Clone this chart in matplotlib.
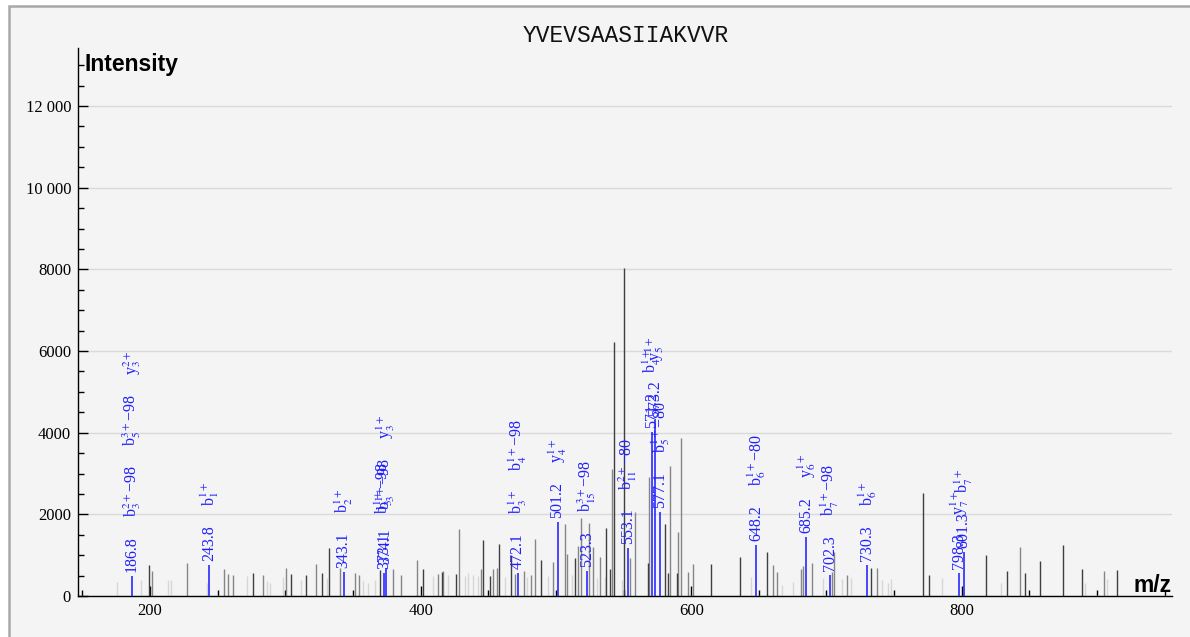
import matplotlib
matplotlib.use("Agg")
import matplotlib.pyplot as plt
from matplotlib.patches import Rectangle
from matplotlib.ticker import MultipleLocator, FixedLocator

# ---------------- data ----------------
title = "YVEVSAASIIAKVVR"

# unlabeled peaks: m/z, intensity, shade code (d=dark, m=medium, l=light)
peak_mz = [175.4, 193.1, 199.5, 201.2, 213.5, 215.3, 227.6, 242.4, 254.7, 257.4,
           261.5, 271.5, 276.4, 283.3, 286.2, 288.7, 298.5, 300.5, 304.2, 311.6,
           315.3, 322.4, 327.3, 330.5, 332.5, 340.4, 351.5, 354.5, 357.6, 361.3,
           366.3, 370.0, 379.4, 385.2, 397.0, 401.5, 409.4, 413.0, 415.6, 416.8,
           420.5, 426.2, 428.6, 432.8, 435.3, 438.9, 442.6, 444.4, 446.4, 451.3,
           453.3, 456.2, 458.2, 462.4, 466.6, 470.0, 476.4, 478.4, 481.4, 484.5,
           489.2, 494.4, 498.0, 506.7, 508.2, 511.7, 514.1, 516.1, 518.3, 524.5,
           527.1, 530.2, 532.6, 536.3, 537.0, 540.0, 541.2, 543.0, 548.6, 550.6,
           554.8, 558.4, 568.2, 569.0, 580.4, 583.1, 584.3, 589.2, 590.0, 592.2,
           598.0, 601.0, 614.3, 636.1, 644.0, 656.2, 660.2, 663.1, 667.0, 674.9,
           680.8, 682.8, 689.3, 697.1, 704.0, 705.2, 711.1, 714.9, 717.8, 733.1,
           737.0, 741.0, 745.6, 747.4, 771.1, 776.0, 785.1, 817.8, 828.7, 833.1,
           843.0, 846.9, 857.8, 875.0, 889.1, 891.1, 905.1, 907.5, 914.9]
peak_int = [350, 390, 760, 620, 390, 390, 815, 310, 650, 540,
            505, 490, 570, 505, 375, 310, 475, 675, 540, 390,
            515, 785, 555, 450, 1165, 675, 570, 515, 375, 310,
            390, 635, 650, 515, 880, 650, 480, 540, 600, 620,
            520, 530, 1640, 480, 560, 520, 500, 650, 1370, 490,
            660, 675, 1275, 470, 1005, 540, 620, 460, 515, 1390,
            880, 480, 840, 1755, 1020, 520, 940, 1225, 1900, 1795,
            1190, 450, 960, 460, 1670, 650, 3100, 6220, 390, 8030,
            920, 2065, 800, 2920, 1760, 570, 3190, 555, 1560, 3870,
            590, 785, 785, 965, 460, 1075, 760, 580, 270, 350,
            660, 740, 800, 430, 600, 1085, 410, 515, 450, 675,
            675, 390, 310, 415, 2515, 515, 430, 1005, 310, 620,
            1190, 570, 855, 1250, 650, 330, 610, 415, 635]
peak_shade = ["l", "l", "d", "m", "l", "l", "m", "l", "m", "m",
              "m", "l", "d", "m", "l", "l", "l", "m", "d", "l",
              "d", "m", "d", "l", "d", "m", "m", "m", "l", "l",
              "l", "d", "m", "m", "m", "d", "l", "m", "d", "m",
              "l", "d", "m", "l", "l", "l", "l", "m", "d", "d",
              "m", "m", "d", "l", "d", "m", "m", "l", "m", "m",
              "d", "l", "m", "m", "m", "l", "d", "m", "m", "m",
              "m", "l", "m", "l", "d", "d", "m", "d", "l", "d",
              "m", "m", "d", "m", "d", "d", "m", "d", "m", "m",
              "m", "m", "d", "d", "l", "d", "m", "m", "l", "l",
              "m", "m", "m", "l", "m", "m", "l", "m", "l", "d",
              "m", "l", "l", "l", "d", "d", "l", "d", "l", "d",
              "m", "d", "d", "d", "d", "l", "m", "l", "d"]

# annotated (matched) peaks
ann_mz = [186.8, 243.8, 343.1, 373.1, 374.1, 472.1, 501.2, 523.3, 553.1,
          571.2, 573.2, 577.1, 648.2, 685.2, 702.3, 730.3, 798.3, 801.3]
ann_int = [500, 760, 595, 570, 675, 560, 1810, 620, 1165,
           4020, 4310, 2065, 1250, 1450, 515, 760, 555, 1085]
ann_labels = [
    ["186.8", "b$_{3}^{2+}$\u221298", "b$_{5}^{3+}$\u221298", "y$_{3}^{2+}$"],
    ["243.8", "b$_{1}^{1+}$"],
    ["343.1", "b$_{2}^{1+}$"],
    ["373.1", "b$_{3}^{1+}$\u221298"],
    ["374.1", "b$_{3}^{1+}$\u221298", "y$_{3}^{1+}$"],
    ["472.1", "b$_{3}^{1+}$", "b$_{4}^{1+}$\u221298"],
    ["501.2", "y$_{4}^{1+}$"],
    ["523.3", "b$_{15}^{3+}$\u221298"],
    ["553.1", "b$_{11}^{2+}$\u221280"],
    ["571.2", "b$_{4}^{1+}$"],
    ["573.2", "y$_{5}^{1+}$"],
    ["577.1", "b$_{5}^{1+}$\u221280"],
    ["648.2", "b$_{6}^{1+}$\u221280"],
    ["685.2", "y$_{6}^{1+}$"],
    ["702.3", "b$_{7}^{1+}$\u221298"],
    ["730.3", "b$_{6}^{1+}$"],
    ["798.3", "y$_{7}^{1+}$"],
    ["801.3", "b$_{7}^{1+}$"],
]

x_ticks = [200, 400, 600, 800]
x_tick_labels = ["200", "400", "600", "800"]
y_ticks = [0, 2000, 4000, 6000, 8000, 10000, 12000]
y_tick_labels = ["0", "2000", "4000", "6000", "8000", "10 000", "12 000"]

# ---------------- styling ----------------
plt.rcParams["mathtext.fontset"] = "stix"
W, H, DPI = 1190, 637, 100
fig = plt.figure(figsize=(W / DPI, H / DPI), dpi=DPI, facecolor="white")

# panel background with border
fig.patches.append(Rectangle((8.5 / W, -0.2), 1.2, 1.2 - 6.2 / H,
                             transform=fig.transFigure, facecolor="#f4f4f4",
                             edgecolor="#a8a8a8", linewidth=1.8, zorder=-10))

ax_l, ax_r, ax_b, ax_t = 78, 1172, 596, 48
ax = fig.add_axes([ax_l / W, (H - ax_b) / H, (ax_r - ax_l) / W, (ax_b - ax_t) / H])
ax.set_facecolor("none")

xmin = 200 + (ax_l - 150) / 1.353
xmax = 200 + (ax_r - 150) / 1.353
ymax = (ax_b - ax_t) * 24.49
ax.set_xlim(xmin, xmax)
ax.set_ylim(0, ymax)

for s in ["top", "right"]:
    ax.spines[s].set_visible(False)
for s in ["left", "bottom"]:
    ax.spines[s].set_color("black")
    ax.spines[s].set_linewidth(1.0)

shade_colors = {"d": "#3f3f3f", "m": "#858585", "l": "#d6d6d6"}
for code in ["l", "m", "d"]:
    xs = [m for m, c in zip(peak_mz, peak_shade) if c == code]
    hs = [h for h, c in zip(peak_int, peak_shade) if c == code]
    ax.vlines(xs, 0, hs, colors=shade_colors[code], linewidth=1.0, zorder=2)

ax.vlines(ann_mz, 0, ann_int, colors="#2a2aff", linewidth=1.2, zorder=3)

ax.yaxis.set_major_locator(FixedLocator(y_ticks))
ax.set_yticklabels(y_tick_labels)
ax.yaxis.set_minor_locator(MultipleLocator(500))
ax.xaxis.set_major_locator(FixedLocator(x_ticks))
ax.set_xticklabels(x_tick_labels)
ax.xaxis.set_minor_locator(MultipleLocator(50))
ax.grid(axis="y", which="major", color="#dadada", linewidth=1.0, zorder=0)
ax.set_axisbelow(True)

ax.tick_params(axis="both", which="major", direction="in", length=7, width=1.0,
               color="black", labelsize=12, labelcolor="black")
ax.tick_params(axis="both", which="minor", direction="in", length=4.5, width=1.0,
               color="black")
ax.tick_params(axis="y", which="major", pad=5)
ax.tick_params(axis="x", which="major", pad=5)
for lab in ax.get_xticklabels() + ax.get_yticklabels():
    lab.set_fontfamily("Liberation Serif")

# axis titles
fig.text(85 / W, 1 - 71 / H, "Intensity", fontfamily="Liberation Sans",
         fontweight="bold", fontsize=16.5, ha="left", va="baseline")
fig.text(1172 / W, 1 - 591.5 / H, "m/z", fontfamily="Liberation Sans",
         fontweight="bold", fontsize=16.5, ha="right", va="baseline")
fig.text(625.5 / W, 1 - 36 / H, title, fontfamily="Liberation Mono",
         fontsize=16.5, ha="center", va="center", color="#111111")

# annotations stacked above each matched peak
fig.canvas.draw()
renderer = fig.canvas.get_renderer()
px2pt = 72.0 / DPI
for mz, h, labs in zip(ann_mz, ann_int, ann_labels):
    off = 4.0
    for s in labs:
        t = ax.annotate(s, xy=(mz, h), xytext=(0, off * px2pt),
                        textcoords="offset points", rotation=90,
                        ha="center", va="bottom", color="#2020ff",
                        fontsize=11.5, fontfamily="Liberation Serif", zorder=4)
        bb = t.get_window_extent(renderer)
        off += bb.height + 19

fig.savefig("out.png", dpi=DPI, facecolor="white")
